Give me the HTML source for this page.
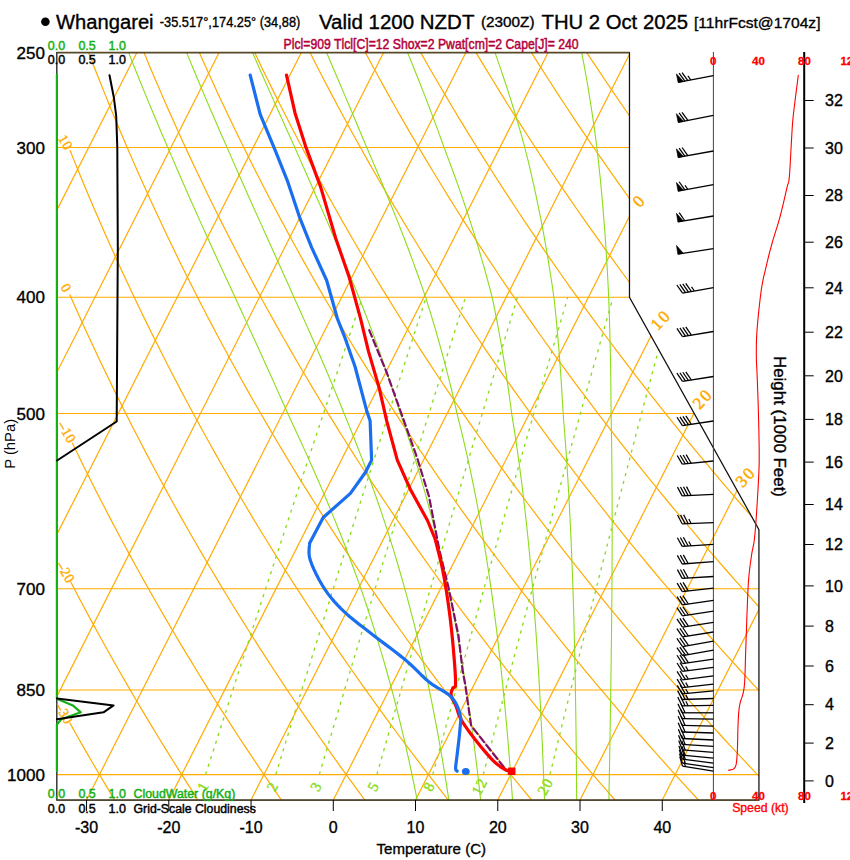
<!DOCTYPE html><html><head><meta charset="utf-8"><style>html,body{margin:0;padding:0;background:#fff;}svg{display:block;font-family:"Liberation Sans",sans-serif;}</style></head><body>
<svg width="850" height="860" viewBox="0 0 850 860">
<rect width="850" height="860" fill="#fff"/>
<defs><clipPath id="cp"><path d="M56.83,800.00 L758.93,800.00 L758.93,529.58 L629.48,297.39 L629.48,52.51 L56.83,52.51 Z"/></clipPath></defs>
<g clip-path="url(#cp)" fill="none">
<line x1="56.8" y1="774.59" x2="758.9" y2="774.59" stroke="#ffab00" stroke-width="1.1"/>
<line x1="56.8" y1="689.94" x2="758.9" y2="689.94" stroke="#ffab00" stroke-width="1.1"/>
<line x1="56.8" y1="588.81" x2="758.9" y2="588.81" stroke="#ffab00" stroke-width="1.1"/>
<line x1="56.8" y1="413.55" x2="758.9" y2="413.55" stroke="#ffab00" stroke-width="1.1"/>
<line x1="56.8" y1="297.32" x2="758.9" y2="297.32" stroke="#ffab00" stroke-width="1.1"/>
<line x1="56.8" y1="147.48" x2="758.9" y2="147.48" stroke="#ffab00" stroke-width="1.1"/>
<line x1="-571.37" y1="800.00" x2="-192.07" y2="52.51" stroke="#ffab00" stroke-width="1.2"/>
<line x1="-489.13" y1="800.00" x2="-109.83" y2="52.51" stroke="#ffab00" stroke-width="1.2"/>
<line x1="-406.89" y1="800.00" x2="-27.59" y2="52.51" stroke="#ffab00" stroke-width="1.2"/>
<line x1="-324.65" y1="800.00" x2="54.66" y2="52.51" stroke="#ffab00" stroke-width="1.2"/>
<line x1="-242.40" y1="800.00" x2="136.90" y2="52.51" stroke="#ffab00" stroke-width="1.2"/>
<line x1="-160.16" y1="800.00" x2="219.14" y2="52.51" stroke="#ffab00" stroke-width="1.2"/>
<line x1="-77.92" y1="800.00" x2="301.38" y2="52.51" stroke="#ffab00" stroke-width="1.2"/>
<line x1="4.32" y1="800.00" x2="383.62" y2="52.51" stroke="#ffab00" stroke-width="1.2"/>
<line x1="86.56" y1="800.00" x2="465.87" y2="52.51" stroke="#ffab00" stroke-width="1.2"/>
<line x1="168.81" y1="800.00" x2="548.11" y2="52.51" stroke="#ffab00" stroke-width="1.2"/>
<line x1="251.05" y1="800.00" x2="630.35" y2="52.51" stroke="#ffab00" stroke-width="1.2"/>
<line x1="333.29" y1="800.00" x2="712.59" y2="52.51" stroke="#ffab00" stroke-width="1.2"/>
<line x1="415.53" y1="800.00" x2="794.83" y2="52.51" stroke="#ffab00" stroke-width="1.2"/>
<line x1="497.77" y1="800.00" x2="877.08" y2="52.51" stroke="#ffab00" stroke-width="1.2"/>
<line x1="580.02" y1="800.00" x2="959.32" y2="52.51" stroke="#ffab00" stroke-width="1.2"/>
<line x1="662.26" y1="800.00" x2="1041.56" y2="52.51" stroke="#ffab00" stroke-width="1.2"/>
<path d="M114.63,800.00 L106.91,787.15 L99.29,774.31 L91.77,761.46 L84.35,748.61 L77.03,735.76 L69.80,722.91 L69.74,722.80" stroke="#ffab00" stroke-width="1.2"/>
<path d="M198.03,800.00 L189.73,787.15 L181.52,774.31 L173.42,761.46 L165.43,748.61 L157.54,735.76 L149.74,722.91 L142.05,710.07 L134.46,697.22 L126.96,684.37 L119.57,671.52 L112.27,658.68 L105.07,645.83 L97.97,632.98 L90.96,620.13 L84.05,607.29 L77.23,594.44 L70.50,581.59 L70.41,581.40" stroke="#ffab00" stroke-width="1.2"/>
<path d="M281.43,800.00 L272.54,787.15 L263.75,774.31 L255.08,761.46 L246.51,748.61 L238.04,735.76 L229.69,722.91 L221.43,710.07 L213.28,697.22 L205.24,684.37 L197.29,671.52 L189.45,658.68 L181.71,645.83 L174.06,632.98 L166.52,620.13 L159.08,607.29 L151.73,594.44 L144.48,581.59 L137.33,568.74 L130.28,555.90 L123.32,543.05 L116.45,530.20 L109.68,517.35 L103.00,504.50 L96.42,491.66 L89.92,478.81 L83.52,465.96 L77.21,453.11 L72.21,442.80" stroke="#ffab00" stroke-width="1.2"/>
<path d="M364.82,800.00 L355.35,787.15 L345.98,774.31 L336.73,761.46 L327.59,748.61 L318.55,735.76 L309.63,722.91 L300.81,710.07 L292.11,697.22 L283.51,684.37 L275.01,671.52 L266.62,658.68 L258.34,645.83 L250.16,632.98 L242.08,620.13 L234.11,607.29 L226.24,594.44 L218.47,581.59 L210.79,568.74 L203.22,555.90 L195.75,543.05 L188.38,530.20 L181.10,517.35 L173.92,504.50 L166.84,491.66 L159.85,478.81 L152.95,465.96 L146.15,453.11 L139.45,440.27 L132.84,427.42 L126.32,414.57 L119.89,401.72 L113.55,388.88 L107.30,376.03 L101.14,363.18 L95.07,350.33 L89.09,337.49 L83.20,324.64 L77.40,311.79 L71.68,298.94 L69.73,294.50" stroke="#ffab00" stroke-width="1.2"/>
<path d="M448.22,800.00 L438.16,787.15 L428.21,774.31 L418.38,761.46 L408.66,748.61 L399.06,735.76 L389.57,722.91 L380.20,710.07 L370.93,697.22 L361.78,684.37 L352.74,671.52 L343.80,658.68 L334.97,645.83 L326.26,632.98 L317.65,620.13 L309.14,607.29 L300.74,594.44 L292.45,581.59 L284.26,568.74 L276.17,555.90 L268.18,543.05 L260.30,530.20 L252.52,517.35 L244.84,504.50 L237.26,491.66 L229.77,478.81 L222.39,465.96 L215.10,453.11 L207.91,440.27 L200.82,427.42 L193.82,414.57 L186.92,401.72 L180.11,388.88 L173.39,376.03 L166.77,363.18 L160.24,350.33 L153.80,337.49 L147.46,324.64 L141.20,311.79 L135.03,298.94 L128.95,286.09 L122.96,273.25 L117.06,260.40 L111.25,247.55 L105.52,234.70 L99.88,221.86 L94.32,209.01 L88.85,196.16 L83.46,183.31 L78.16,170.47 L72.94,157.62 L70.01,150.30" stroke="#ffab00" stroke-width="1.2"/>
<path d="M531.62,800.00 L520.97,787.15 L510.44,774.31 L500.03,761.46 L489.74,748.61 L479.57,735.76 L469.52,722.91 L459.58,710.07 L449.76,697.22 L440.05,684.37 L430.46,671.52 L420.98,658.68 L411.61,645.83 L402.35,632.98 L393.21,620.13 L384.17,607.29 L375.24,594.44 L366.43,581.59 L357.72,568.74 L349.11,555.90 L340.62,543.05 L332.22,530.20 L323.94,517.35 L315.75,504.50 L307.68,491.66 L299.70,478.81 L291.82,465.96 L284.05,453.11 L276.37,440.27 L268.80,427.42 L261.33,414.57 L253.95,401.72 L246.67,388.88 L239.49,376.03 L232.40,363.18 L225.41,350.33 L218.51,337.49 L211.71,324.64 L205.00,311.79 L198.39,298.94 L191.87,286.09 L185.43,273.25 L179.09,260.40 L172.84,247.55 L166.68,234.70 L160.61,221.86 L154.63,209.01 L148.73,196.16 L142.93,183.31 L137.20,170.47 L131.57,157.62 L126.02,144.77 L120.55,131.92 L115.17,119.08 L109.87,106.23 L104.66,93.38 L99.53,80.53 L94.48,67.68 L89.51,54.84 L84.62,41.99" stroke="#ffab00" stroke-width="1.2"/>
<path d="M615.01,800.00 L603.78,787.15 L592.67,774.31 L581.68,761.46 L570.82,748.61 L560.08,735.76 L549.46,722.91 L538.96,710.07 L528.58,697.22 L518.32,684.37 L508.18,671.52 L498.15,658.68 L488.24,645.83 L478.45,632.98 L468.77,620.13 L459.20,607.29 L449.75,594.44 L440.41,581.59 L431.18,568.74 L422.06,555.90 L413.05,543.05 L404.15,530.20 L395.36,517.35 L386.67,504.50 L378.10,491.66 L369.62,478.81 L361.26,465.96 L353.00,453.11 L344.84,440.27 L336.78,427.42 L328.83,414.57 L320.98,401.72 L313.23,388.88 L305.58,376.03 L298.03,363.18 L290.58,350.33 L283.22,337.49 L275.97,324.64 L268.81,311.79 L261.74,298.94 L254.78,286.09 L247.90,273.25 L241.12,260.40 L234.44,247.55 L227.85,234.70 L221.34,221.86 L214.93,209.01 L208.62,196.16 L202.39,183.31 L196.25,170.47 L190.20,157.62 L184.24,144.77 L178.36,131.92 L172.58,119.08 L166.87,106.23 L161.26,93.38 L155.73,80.53 L150.28,67.68 L144.92,54.84 L139.65,41.99" stroke="#ffab00" stroke-width="1.2"/>
<path d="M698.41,800.00 L686.59,787.15 L674.90,774.31 L663.34,761.46 L651.90,748.61 L640.59,735.76 L629.40,722.91 L618.34,710.07 L607.41,697.22 L596.59,684.37 L585.90,671.52 L575.33,658.68 L564.88,645.83 L554.54,632.98 L544.33,620.13 L534.23,607.29 L524.25,594.44 L514.39,581.59 L504.64,568.74 L495.00,555.90 L485.48,543.05 L476.07,530.20 L466.78,517.35 L457.59,504.50 L448.52,491.66 L439.55,478.81 L430.69,465.96 L421.94,453.11 L413.30,440.27 L404.76,427.42 L396.33,414.57 L388.01,401.72 L379.79,388.88 L371.67,376.03 L363.66,363.18 L355.74,350.33 L347.93,337.49 L340.22,324.64 L332.61,311.79 L325.10,298.94 L317.69,286.09 L310.37,273.25 L303.15,260.40 L296.03,247.55 L289.01,234.70 L282.08,221.86 L275.24,209.01 L268.50,196.16 L261.85,183.31 L255.29,170.47 L248.83,157.62 L242.46,144.77 L236.17,131.92 L229.98,119.08 L223.88,106.23 L217.86,93.38 L211.93,80.53 L206.09,67.68 L200.34,54.84 L194.67,41.99" stroke="#ffab00" stroke-width="1.2"/>
<path d="M781.81,800.00 L769.40,787.15 L757.13,774.31 L744.99,761.46 L732.98,748.61 L721.10,735.76 L709.35,722.91 L697.73,710.07 L686.23,697.22 L674.86,684.37 L663.62,671.52 L652.50,658.68 L641.51,645.83 L630.64,632.98 L619.89,620.13 L609.26,607.29 L598.76,594.44 L588.37,581.59 L578.10,568.74 L567.95,555.90 L557.92,543.05 L548.00,530.20 L538.20,517.35 L528.51,504.50 L518.94,491.66 L509.47,478.81 L500.13,465.96 L490.89,453.11 L481.76,440.27 L472.75,427.42 L463.84,414.57 L455.04,401.72 L446.35,388.88 L437.76,376.03 L429.28,363.18 L420.91,350.33 L412.64,337.49 L404.48,324.64 L396.42,311.79 L388.46,298.94 L380.60,286.09 L372.84,273.25 L365.19,260.40 L357.63,247.55 L350.17,234.70 L342.81,221.86 L335.55,209.01 L328.38,196.16 L321.31,183.31 L314.34,170.47 L307.46,157.62 L300.67,144.77 L293.98,131.92 L287.38,119.08 L280.88,106.23 L274.46,93.38 L268.14,80.53 L261.90,67.68 L255.76,54.84 L249.70,41.99" stroke="#ffab00" stroke-width="1.2"/>
<path d="M865.20,800.00 L852.21,787.15 L839.36,774.31 L826.64,761.46 L814.06,748.61 L801.61,735.76 L789.29,722.91 L777.11,710.07 L765.06,697.22 L753.14,684.37 L741.34,671.52 L729.68,658.68 L718.14,645.83 L706.74,632.98 L695.45,620.13 L684.29,607.29 L673.26,594.44 L662.35,581.59 L651.56,568.74 L640.90,555.90 L630.35,543.05 L619.92,530.20 L609.62,517.35 L599.43,504.50 L589.36,491.66 L579.40,478.81 L569.56,465.96 L559.84,453.11 L550.23,440.27 L540.73,427.42 L531.34,414.57 L522.07,401.72 L512.91,388.88 L503.86,376.03 L494.91,363.18 L486.08,350.33 L477.35,337.49 L468.73,324.64 L460.22,311.79 L451.81,298.94 L443.51,286.09 L435.31,273.25 L427.22,260.40 L419.22,247.55 L411.33,234.70 L403.54,221.86 L395.85,209.01 L388.27,196.16 L380.78,183.31 L373.38,170.47 L366.09,157.62 L358.89,144.77 L351.79,131.92 L344.79,119.08 L337.88,106.23 L331.06,93.38 L324.34,80.53 L317.71,67.68 L311.17,54.84 L304.73,41.99" stroke="#ffab00" stroke-width="1.2"/>
<path d="M948.60,800.00 L935.02,787.15 L921.59,774.31 L908.29,761.46 L895.14,748.61 L882.12,735.76 L869.24,722.91 L856.49,710.07 L843.88,697.22 L831.41,684.37 L819.07,671.52 L806.86,658.68 L794.78,645.83 L782.83,632.98 L771.01,620.13 L759.33,607.29 L747.76,594.44 L736.33,581.59 L725.02,568.74 L713.84,555.90 L702.78,543.05 L691.85,530.20 L681.04,517.35 L670.34,504.50 L659.77,491.66 L649.33,478.81 L638.99,465.96 L628.78,453.11 L618.69,440.27 L608.71,427.42 L598.85,414.57 L589.10,401.72 L579.47,388.88 L569.95,376.03 L560.54,363.18 L551.25,350.33 L542.06,337.49 L532.99,324.64 L524.02,311.79 L515.17,298.94 L506.42,286.09 L497.78,273.25 L489.25,260.40 L480.82,247.55 L472.50,234.70 L464.28,221.86 L456.16,209.01 L448.15,196.16 L440.24,183.31 L432.43,170.47 L424.72,157.62 L417.11,144.77 L409.60,131.92 L402.19,119.08 L394.88,106.23 L387.66,93.38 L380.54,80.53 L373.52,67.68 L366.59,54.84 L359.75,41.99" stroke="#ffab00" stroke-width="1.2"/>
<path d="M1032.00,800.00 L1017.83,787.15 L1003.82,774.31 L989.94,761.46 L976.21,748.61 L962.63,735.76 L949.18,722.91 L935.87,710.07 L922.71,697.22 L909.68,684.37 L896.79,671.52 L884.03,658.68 L871.41,645.83 L858.93,632.98 L846.58,620.13 L834.36,607.29 L822.27,594.44 L810.31,581.59 L798.48,568.74 L786.79,555.90 L775.22,543.05 L763.77,530.20 L752.45,517.35 L741.26,504.50 L730.19,491.66 L719.25,478.81 L708.43,465.96 L697.73,453.11 L687.15,440.27 L676.69,427.42 L666.35,414.57 L656.13,401.72 L646.03,388.88 L636.04,376.03 L626.17,363.18 L616.41,350.33 L606.77,337.49 L597.24,324.64 L587.83,311.79 L578.52,298.94 L569.33,286.09 L560.25,273.25 L551.28,260.40 L542.41,247.55 L533.66,234.70 L525.01,221.86 L516.47,209.01 L508.03,196.16 L499.70,183.31 L491.47,170.47 L483.35,157.62 L475.33,144.77 L467.41,131.92 L459.59,119.08 L451.88,106.23 L444.26,93.38 L436.74,80.53 L429.33,67.68 L422.01,54.84 L414.78,41.99" stroke="#ffab00" stroke-width="1.2"/>
<path d="M1115.39,800.00 L1100.64,787.15 L1086.05,774.31 L1071.59,761.46 L1057.29,748.61 L1043.14,735.76 L1029.12,722.91 L1015.26,710.07 L1001.53,697.22 L987.95,684.37 L974.51,671.52 L961.21,658.68 L948.05,645.83 L935.02,632.98 L922.14,620.13 L909.39,607.29 L896.77,594.44 L884.29,581.59 L871.95,568.74 L859.73,555.90 L847.65,543.05 L835.70,530.20 L823.87,517.35 L812.18,504.50 L800.61,491.66 L789.18,478.81 L777.86,465.96 L766.68,453.11 L755.61,440.27 L744.67,427.42 L733.86,414.57 L723.16,401.72 L712.59,388.88 L702.13,376.03 L691.80,363.18 L681.58,350.33 L671.48,337.49 L661.50,324.64 L651.63,311.79 L641.88,298.94 L632.24,286.09 L622.72,273.25 L613.31,260.40 L604.01,247.55 L594.82,234.70 L585.74,221.86 L576.77,209.01 L567.91,196.16 L559.16,183.31 L550.52,170.47 L541.98,157.62 L533.55,144.77 L525.22,131.92 L517.00,119.08 L508.88,106.23 L500.86,93.38 L492.95,80.53 L485.13,67.68 L477.42,54.84 L469.81,41.99" stroke="#ffab00" stroke-width="1.2"/>
<path d="M1198.79,800.00 L1183.45,787.15 L1168.27,774.31 L1153.25,761.46 L1138.37,748.61 L1123.64,735.76 L1109.07,722.91 L1094.64,710.07 L1080.36,697.22 L1066.22,684.37 L1052.23,671.52 L1038.38,658.68 L1024.68,645.83 L1011.12,632.98 L997.70,620.13 L984.42,607.29 L971.28,594.44 L958.27,581.59 L945.41,568.74 L932.68,555.90 L920.08,543.05 L907.62,530.20 L895.29,517.35 L883.10,504.50 L871.03,491.66 L859.10,478.81 L847.30,465.96 L835.62,453.11 L824.08,440.27 L812.66,427.42 L801.36,414.57 L790.19,401.72 L779.15,388.88 L768.23,376.03 L757.43,363.18 L746.75,350.33 L736.19,337.49 L725.75,324.64 L715.44,311.79 L705.24,298.94 L695.15,286.09 L685.19,273.25 L675.34,260.40 L665.60,247.55 L655.98,234.70 L646.48,221.86 L637.08,209.01 L627.80,196.16 L618.63,183.31 L609.56,170.47 L600.61,157.62 L591.77,144.77 L583.03,131.92 L574.40,119.08 L565.88,106.23 L557.46,93.38 L549.15,80.53 L540.94,67.68 L532.84,54.84 L524.84,41.99" stroke="#ffab00" stroke-width="1.2"/>
<path d="M1282.18,800.00 L1266.27,787.15 L1250.50,774.31 L1234.90,761.46 L1219.45,748.61 L1204.15,735.76 L1189.01,722.91 L1174.02,710.07 L1159.18,697.22 L1144.49,684.37 L1129.95,671.52 L1115.56,658.68 L1101.31,645.83 L1087.21,632.98 L1073.26,620.13 L1059.45,607.29 L1045.78,594.44 L1032.25,581.59 L1018.87,568.74 L1005.62,555.90 L992.52,543.05 L979.55,530.20 L966.71,517.35 L954.02,504.50 L941.45,491.66 L929.03,478.81 L916.73,465.96 L904.57,453.11 L892.54,440.27 L880.64,427.42 L868.87,414.57 L857.22,401.72 L845.71,388.88 L834.32,376.03 L823.05,363.18 L811.92,350.33 L800.90,337.49 L790.01,324.64 L779.24,311.79 L768.59,298.94 L758.07,286.09 L747.66,273.25 L737.37,260.40 L727.20,247.55 L717.15,234.70 L707.21,221.86 L697.39,209.01 L687.68,196.16 L678.09,183.31 L668.61,170.47 L659.24,157.62 L649.99,144.77 L640.84,131.92 L631.81,119.08 L622.88,106.23 L614.06,93.38 L605.35,80.53 L596.75,67.68 L588.25,54.84 L579.86,41.99" stroke="#ffab00" stroke-width="1.2"/>
<path d="M1365.58,800.00 L1349.08,787.15 L1332.73,774.31 L1316.55,761.46 L1300.53,748.61 L1284.66,735.76 L1268.95,722.91 L1253.40,710.07 L1238.01,697.22 L1222.76,684.37 L1207.67,671.52 L1192.74,658.68 L1177.95,645.83 L1163.31,632.98 L1148.82,620.13 L1134.48,607.29 L1120.28,594.44 L1106.23,581.59 L1092.33,568.74 L1078.57,555.90 L1064.95,543.05 L1051.47,530.20 L1038.13,517.35 L1024.93,504.50 L1011.87,491.66 L998.95,478.81 L986.17,465.96 L973.52,453.11 L961.00,440.27 L948.62,427.42 L936.37,414.57 L924.25,401.72 L912.27,388.88 L900.41,376.03 L888.68,363.18 L877.08,350.33 L865.61,337.49 L854.27,324.64 L843.04,311.79 L831.95,298.94 L820.98,286.09 L810.13,273.25 L799.40,260.40 L788.79,247.55 L778.31,234.70 L767.94,221.86 L757.69,209.01 L747.56,196.16 L737.55,183.31 L727.65,170.47 L717.87,157.62 L708.20,144.77 L698.65,131.92 L689.21,119.08 L679.88,106.23 L670.66,93.38 L661.56,80.53 L652.56,67.68 L643.67,54.84 L634.89,41.99" stroke="#ffab00" stroke-width="1.2"/>
<path d="M1448.98,800.00 L1431.89,787.15 L1414.96,774.31 L1398.20,761.46 L1381.61,748.61 L1365.17,735.76 L1348.90,722.91 L1332.79,710.07 L1316.83,697.22 L1301.04,684.37 L1285.40,671.52 L1269.91,658.68 L1254.58,645.83 L1239.41,632.98 L1224.38,620.13 L1209.51,607.29 L1194.79,594.44 L1180.22,581.59 L1165.79,568.74 L1151.51,555.90 L1137.38,543.05 L1123.39,530.20 L1109.55,517.35 L1095.85,504.50 L1082.29,491.66 L1068.88,478.81 L1055.60,465.96 L1042.46,453.11 L1029.46,440.27 L1016.60,427.42 L1003.87,414.57 L991.28,401.72 L978.83,388.88 L966.50,376.03 L954.31,363.18 L942.25,350.33 L930.32,337.49 L918.52,324.64 L906.85,311.79 L895.31,298.94 L883.89,286.09 L872.60,273.25 L861.43,260.40 L850.39,247.55 L839.47,234.70 L828.68,221.86 L818.00,209.01 L807.45,196.16 L797.01,183.31 L786.70,170.47 L776.50,157.62 L766.42,144.77 L756.46,131.92 L746.61,119.08 L736.88,106.23 L727.26,93.38 L717.76,80.53 L708.37,67.68 L699.09,54.84 L689.92,41.99" stroke="#ffab00" stroke-width="1.2"/>
<path d="M1532.37,800.00 L1514.70,787.15 L1497.19,774.31 L1479.85,761.46 L1462.68,748.61 L1445.68,735.76 L1428.84,722.91 L1412.17,710.07 L1395.66,697.22 L1379.31,684.37 L1363.12,671.52 L1347.09,658.68 L1331.22,645.83 L1315.50,632.98 L1299.94,620.13 L1284.54,607.29 L1269.29,594.44 L1254.20,581.59 L1239.25,568.74 L1224.46,555.90 L1209.81,543.05 L1195.32,530.20 L1180.97,517.35 L1166.77,504.50 L1152.71,491.66 L1138.80,478.81 L1125.04,465.96 L1111.41,453.11 L1097.93,440.27 L1084.58,427.42 L1071.38,414.57 L1058.31,401.72 L1045.39,388.88 L1032.59,376.03 L1019.94,363.18 L1007.42,350.33 L995.03,337.49 L982.78,324.64 L970.65,311.79 L958.66,298.94 L946.80,286.09 L935.07,273.25 L923.46,260.40 L911.98,247.55 L900.63,234.70 L889.41,221.86 L878.31,209.01 L867.33,196.16 L856.48,183.31 L845.74,170.47 L835.13,157.62 L824.64,144.77 L814.27,131.92 L804.02,119.08 L793.88,106.23 L783.86,93.38 L773.96,80.53 L764.18,67.68 L754.50,54.84 L744.95,41.99" stroke="#ffab00" stroke-width="1.2"/>
<path d="M1615.77,800.00 L1597.51,787.15 L1579.42,774.31 L1561.51,761.46 L1543.76,748.61 L1526.19,735.76 L1508.79,722.91 L1491.55,710.07 L1474.48,697.22 L1457.58,684.37 L1440.84,671.52 L1424.26,658.68 L1407.85,645.83 L1391.60,632.98 L1375.51,620.13 L1359.57,607.29 L1343.80,594.44 L1328.18,581.59 L1312.71,568.74 L1297.40,555.90 L1282.25,543.05 L1267.24,530.20 L1252.39,517.35 L1237.69,504.50 L1223.13,491.66 L1208.73,478.81 L1194.47,465.96 L1180.36,453.11 L1166.39,440.27 L1152.56,427.42 L1138.88,414.57 L1125.34,401.72 L1111.95,388.88 L1098.69,376.03 L1085.57,363.18 L1072.59,350.33 L1059.74,337.49 L1047.03,324.64 L1034.46,311.79 L1022.02,298.94 L1009.71,286.09 L997.54,273.25 L985.49,260.40 L973.58,247.55 L961.80,234.70 L950.14,221.86 L938.61,209.01 L927.21,196.16 L915.94,183.31 L904.79,170.47 L893.76,157.62 L882.86,144.77 L872.08,131.92 L861.42,119.08 L850.88,106.23 L840.47,93.38 L830.17,80.53 L819.98,67.68 L809.92,54.84 L799.97,41.99" stroke="#ffab00" stroke-width="1.2"/>
<path d="M608.90,800.00 L609.13,787.15 L609.37,774.31 L609.59,761.46 L609.82,748.61 L610.04,735.76 L610.25,722.91 L610.46,710.07 L610.66,697.22 L610.85,684.37 L611.03,671.52 L611.20,658.68 L611.37,645.83 L611.52,632.98 L611.65,620.13 L611.78,607.29 L611.89,594.44 L611.98,581.59 L612.05,568.74 L612.11,555.90 L612.15,543.05 L612.16,530.20 L612.16,517.35 L612.12,504.50 L612.07,491.66 L611.99,478.81 L611.87,465.96 L611.73,453.11 L611.56,440.27 L611.35,427.42 L611.11,414.57 L611.01,401.72 L610.89,388.88 L610.73,376.03 L610.52,363.18 L610.27,350.33 L609.97,337.49 L609.62,324.64 L609.22,311.79 L608.76,298.94 L608.15,286.09 L607.47,273.25 L606.73,260.40 L605.92,247.55 L605.04,234.70 L604.08,221.86 L603.04,209.01 L601.93,196.16 L600.72,183.31 L599.43,170.47 L598.04,157.62 L596.53,144.77 L594.81,131.92 L592.99,119.08 L591.06,106.23 L589.01,93.38 L586.84,80.53 L584.55,67.68 L582.13,54.84 L579.60,41.99" stroke="#8cdc1a" stroke-width="1.1"/>
<path d="M576.66,800.00 L576.56,787.15 L576.46,774.31 L576.35,761.46 L576.22,748.61 L576.07,735.76 L575.91,722.91 L575.73,710.07 L575.53,697.22 L575.32,684.37 L575.08,671.52 L574.82,658.68 L574.53,645.83 L574.22,632.98 L573.88,620.13 L573.52,607.29 L573.12,594.44 L572.69,581.59 L572.22,568.74 L571.72,555.90 L571.18,543.05 L570.60,530.20 L569.98,517.35 L569.32,504.50 L568.60,491.66 L567.84,478.81 L567.03,465.96 L566.16,453.11 L565.23,440.27 L564.24,427.42 L563.19,414.57 L562.47,401.72 L561.70,388.88 L560.86,376.03 L559.95,363.18 L558.95,350.33 L557.88,337.49 L556.71,324.64 L555.46,311.79 L554.11,298.94 L552.30,286.09 L550.33,273.25 L548.26,260.40 L546.08,247.55 L543.78,234.70 L541.37,221.86 L538.82,209.01 L536.15,196.16 L533.35,183.31 L530.42,170.47 L527.34,157.62 L524.07,144.77 L520.47,131.92 L516.73,119.08 L512.83,106.23 L508.79,93.38 L504.60,80.53 L500.26,67.68 L495.77,54.84 L491.33,41.99" stroke="#8cdc1a" stroke-width="1.1"/>
<path d="M544.53,800.00 L544.06,787.15 L543.56,774.31 L543.03,761.46 L542.48,748.61 L541.90,735.76 L541.29,722.91 L540.65,710.07 L539.98,697.22 L539.27,684.37 L538.52,671.52 L537.73,658.68 L536.90,645.83 L536.03,632.98 L535.11,620.13 L534.14,607.29 L533.13,594.44 L532.05,581.59 L530.92,568.74 L529.73,555.90 L528.48,543.05 L527.17,530.20 L525.78,517.35 L524.33,504.50 L522.80,491.66 L521.19,478.81 L519.49,465.96 L517.72,453.11 L515.85,440.27 L513.89,427.42 L511.83,414.57 L510.11,401.72 L508.32,388.88 L506.42,376.03 L504.41,363.18 L502.28,350.33 L500.03,337.49 L497.65,324.64 L495.15,311.79 L492.51,298.94 L489.23,286.09 L485.74,273.25 L482.11,260.40 L478.34,247.55 L474.42,234.70 L470.36,221.86 L466.15,209.01 L461.79,196.16 L457.30,183.31 L452.66,170.47 L447.88,157.62 L443.06,144.77 L438.45,131.92 L433.72,119.08 L428.87,106.23 L423.91,93.38 L418.86,80.53 L413.71,67.68 L408.48,54.84 L402.92,41.99" stroke="#8cdc1a" stroke-width="1.1"/>
<path d="M512.53,800.00 L511.61,787.15 L510.65,774.31 L509.65,761.46 L508.61,748.61 L507.52,735.76 L506.39,722.91 L505.21,710.07 L503.97,697.22 L502.69,684.37 L501.34,671.52 L499.93,658.68 L498.46,645.83 L496.93,632.98 L495.32,620.13 L493.64,607.29 L491.89,594.44 L490.06,581.59 L488.14,568.74 L486.14,555.90 L484.04,543.05 L481.86,530.20 L479.57,517.35 L477.18,504.50 L474.69,491.66 L472.08,478.81 L469.36,465.96 L466.53,453.11 L463.57,440.27 L460.49,427.42 L457.28,414.57 L454.34,401.72 L451.31,388.88 L448.14,376.03 L444.82,363.18 L441.37,350.33 L437.78,337.49 L434.04,324.64 L430.16,311.79 L426.14,298.94 L421.77,286.09 L417.23,273.25 L412.56,260.40 L407.76,247.55 L402.83,234.70 L397.79,221.86 L392.64,209.01 L387.38,196.16 L382.04,183.31 L376.61,170.47 L371.10,157.62 L365.59,144.77 L360.24,131.92 L354.84,119.08 L349.41,106.23 L343.96,93.38 L338.49,80.53 L333.01,67.68 L327.53,54.84 L321.68,41.99" stroke="#8cdc1a" stroke-width="1.1"/>
<path d="M480.64,800.00 L479.22,787.15 L477.74,774.31 L476.20,761.46 L474.61,748.61 L472.95,735.76 L471.22,722.91 L469.42,710.07 L467.55,697.22 L465.61,684.37 L463.58,671.52 L461.47,658.68 L459.27,645.83 L456.98,632.98 L454.60,620.13 L452.12,607.29 L449.53,594.44 L446.84,581.59 L444.04,568.74 L441.13,555.90 L438.10,543.05 L434.95,530.20 L431.67,517.35 L428.26,504.50 L424.73,491.66 L421.06,478.81 L417.26,465.96 L413.32,453.11 L409.24,440.27 L405.02,427.42 L400.66,414.57 L396.58,401.72 L392.40,388.88 L388.08,376.03 L383.63,363.18 L379.05,350.33 L374.35,337.49 L369.52,324.64 L364.59,311.79 L359.55,298.94 L354.38,286.09 L349.11,273.25 L343.76,260.40 L338.35,247.55 L332.87,234.70 L327.34,221.86 L321.77,209.01 L316.17,196.16 L310.55,183.31 L304.91,170.47 L299.27,157.62 L293.60,144.77 L287.78,131.92 L281.98,119.08 L276.21,106.23 L270.48,93.38 L264.78,80.53 L259.13,67.68 L253.52,54.84 L247.79,41.99" stroke="#8cdc1a" stroke-width="1.1"/>
<path d="M448.86,800.00 L446.88,787.15 L444.83,774.31 L442.70,761.46 L440.49,748.61 L438.20,735.76 L435.82,722.91 L433.34,710.07 L430.78,697.22 L428.11,684.37 L425.34,671.52 L422.46,658.68 L419.48,645.83 L416.38,632.98 L413.16,620.13 L409.82,607.29 L406.36,594.44 L402.79,581.59 L399.12,568.74 L395.31,555.90 L391.37,543.05 L387.29,530.20 L383.07,517.35 L378.72,504.50 L374.23,491.66 L369.61,478.81 L364.85,465.96 L359.96,453.11 L354.94,440.27 L349.80,427.42 L344.53,414.57 L339.34,401.72 L334.05,388.88 L328.66,376.03 L323.19,363.18 L317.62,350.33 L311.99,337.49 L306.29,324.64 L300.53,311.79 L294.72,298.94 L288.97,286.09 L283.20,273.25 L277.42,260.40 L271.62,247.55 L265.82,234.70 L260.04,221.86 L254.26,209.01 L248.51,196.16 L242.79,183.31 L237.11,170.47 L231.47,157.62 L225.85,144.77 L220.20,131.92 L214.61,119.08 L209.08,106.23 L203.60,93.38 L198.20,80.53 L192.85,67.68 L187.58,54.84 L182.18,41.99" stroke="#8cdc1a" stroke-width="1.1"/>
<path d="M417.16,800.00 L414.59,787.15 L411.92,774.31 L409.16,761.46 L406.29,748.61 L403.33,735.76 L400.25,722.91 L397.07,710.07 L393.77,697.22 L390.35,684.37 L386.81,671.52 L383.14,658.68 L379.35,645.83 L375.43,632.98 L371.38,620.13 L367.19,607.29 L362.87,594.44 L358.37,581.59 L353.71,568.74 L348.91,555.90 L343.98,543.05 L338.92,530.20 L333.73,517.35 L328.42,504.50 L322.98,491.66 L317.44,478.81 L311.78,465.96 L306.03,453.11 L300.18,440.27 L294.25,427.42 L288.24,414.57 L282.53,401.72 L276.80,388.88 L271.02,376.03 L265.20,363.18 L259.35,350.33 L253.47,337.49 L247.59,324.64 L241.70,311.79 L235.82,298.94 L229.85,286.09 L223.90,273.25 L217.96,260.40 L212.07,247.55 L206.21,234.70 L200.39,221.86 L194.62,209.01 L188.91,196.16 L183.25,183.31 L177.66,170.47 L172.12,157.62 L166.63,144.77 L161.12,131.92 L155.67,119.08 L150.30,106.23 L145.00,93.38 L139.77,80.53 L134.62,67.68 L129.54,54.84 L124.45,41.99" stroke="#8cdc1a" stroke-width="1.1"/>
<path d="M549.97,774.59 L554.03,757.87 L558.25,740.61 L562.63,722.75 L567.18,704.25 L571.93,685.08 L576.89,665.17 L582.06,644.47 L587.48,622.91 L593.16,600.43 L599.14,576.92 L605.43,552.31 L612.07,526.48 L619.10,499.30 L626.57,470.62 L634.52,440.27 L643.02,408.04 L652.15,373.68 L661.99,336.90 L672.67,297.32" stroke="#8cdc1a" stroke-width="1.35" stroke-dasharray="3.2,4.9"/>
<path d="M483.32,774.59 L487.65,757.87 L492.14,740.61 L496.80,722.75 L501.65,704.25 L506.70,685.08 L511.96,665.17 L517.45,644.47 L523.20,622.91 L529.22,600.43 L535.55,576.92 L542.20,552.31 L549.23,526.48 L556.65,499.30 L564.53,470.62 L572.92,440.27 L581.88,408.04 L591.49,373.68 L601.84,336.90 L613.06,297.32" stroke="#8cdc1a" stroke-width="1.35" stroke-dasharray="3.2,4.9"/>
<path d="M432.82,774.59 L437.34,757.87 L442.03,740.61 L446.90,722.75 L451.97,704.25 L457.23,685.08 L462.72,665.17 L468.45,644.47 L474.44,622.91 L480.72,600.43 L487.30,576.92 L494.23,552.31 L501.53,526.48 L509.25,499.30 L517.44,470.62 L526.15,440.27 L535.44,408.04 L545.41,373.68 L556.14,336.90 L567.76,297.32" stroke="#8cdc1a" stroke-width="1.35" stroke-dasharray="3.2,4.9"/>
<path d="M376.93,774.59 L381.67,757.87 L386.58,740.61 L391.67,722.75 L396.96,704.25 L402.47,685.08 L408.20,665.17 L414.18,644.47 L420.44,622.91 L426.98,600.43 L433.85,576.92 L441.07,552.31 L448.67,526.48 L456.71,499.30 L465.23,470.62 L474.28,440.27 L483.94,408.04 L494.29,373.68 L505.43,336.90 L517.48,297.32" stroke="#8cdc1a" stroke-width="1.35" stroke-dasharray="3.2,4.9"/>
<path d="M319.32,774.59 L324.27,757.87 L329.40,740.61 L334.72,722.75 L340.24,704.25 L345.98,685.08 L351.96,665.17 L358.20,644.47 L364.71,622.91 L371.53,600.43 L378.67,576.92 L386.19,552.31 L394.10,526.48 L402.45,499.30 L411.30,470.62 L420.70,440.27 L430.73,408.04 L441.46,373.68 L453.00,336.90 L465.48,297.32" stroke="#8cdc1a" stroke-width="1.35" stroke-dasharray="3.2,4.9"/>
<path d="M275.80,774.59 L280.91,757.87 L286.20,740.61 L291.68,722.75 L297.37,704.25 L303.29,685.08 L309.45,665.17 L315.87,644.47 L322.58,622.91 L329.59,600.43 L336.95,576.92 L344.67,552.31 L352.81,526.48 L361.39,499.30 L370.48,470.62 L380.14,440.27 L390.43,408.04 L401.45,373.68 L413.29,336.90 L426.09,297.32" stroke="#8cdc1a" stroke-width="1.35" stroke-dasharray="3.2,4.9"/>
<path d="M205.62,774.59 L210.97,757.87 L216.51,740.61 L222.25,722.75 L228.21,704.25 L234.39,685.08 L240.83,665.17 L247.54,644.47 L254.55,622.91 L261.88,600.43 L269.55,576.92 L277.61,552.31 L286.09,526.48 L295.04,499.30 L304.51,470.62 L314.57,440.27 L325.28,408.04 L336.73,373.68 L349.04,336.90 L362.33,297.32" stroke="#8cdc1a" stroke-width="1.35" stroke-dasharray="3.2,4.9"/>
</g>
<path d="M56.83,800.00 L758.93,800.00 L758.93,529.58 L629.48,297.39 L629.48,52.51 L56.83,52.51 Z" fill="none" stroke="#111" stroke-width="1.25"/>
<line x1="56.8" y1="52.51" x2="629.5" y2="52.51" stroke="#5a4820" stroke-width="1.3"/>
<line x1="56.8" y1="800.00" x2="758.9" y2="800.00" stroke="#5a4820" stroke-width="1.2"/>
<text x="0" y="0" font-size="17" fill="#ffab00" stroke="#ffab00" stroke-width="0.5" text-anchor="middle" dominant-baseline="central" font-family="Liberation Serif" transform="translate(639.4,200.6) rotate(-47)" letter-spacing="2">0</text>
<text x="0" y="0" font-size="17" fill="#ffab00" stroke="#ffab00" stroke-width="0.5" text-anchor="middle" dominant-baseline="central" font-family="Liberation Serif" transform="translate(660.9,319.8) rotate(-47)" letter-spacing="2">10</text>
<text x="0" y="0" font-size="17" fill="#ffab00" stroke="#ffab00" stroke-width="0.5" text-anchor="middle" dominant-baseline="central" font-family="Liberation Serif" transform="translate(702.8,398.8) rotate(-47)" letter-spacing="2">20</text>
<text x="0" y="0" font-size="17" fill="#ffab00" stroke="#ffab00" stroke-width="0.5" text-anchor="middle" dominant-baseline="central" font-family="Liberation Serif" transform="translate(745.8,476.7) rotate(-47)" letter-spacing="2">30</text>
<text x="0" y="0" font-size="14" fill="#ffab00" stroke="#ffab00" stroke-width="0.4" text-anchor="middle" dominant-baseline="central" font-family="Liberation Serif" transform="translate(65.5,142.5) rotate(60)" letter-spacing="0.5">10</text>
<text x="0" y="0" font-size="14" fill="#ffab00" stroke="#ffab00" stroke-width="0.4" text-anchor="middle" dominant-baseline="central" font-family="Liberation Serif" transform="translate(66.0,287.9) rotate(60)" letter-spacing="0.5">0</text>
<text x="0" y="0" font-size="14" fill="#ffab00" stroke="#ffab00" stroke-width="0.4" text-anchor="middle" dominant-baseline="central" font-family="Liberation Serif" transform="translate(66.8,432.2) rotate(60)" letter-spacing="0.5">–10</text>
<text x="0" y="0" font-size="14" fill="#ffab00" stroke="#ffab00" stroke-width="0.4" text-anchor="middle" dominant-baseline="central" font-family="Liberation Serif" transform="translate(65.6,572.2) rotate(60)" letter-spacing="0.5">–20</text>
<text x="0" y="0" font-size="14" fill="#ffab00" stroke="#ffab00" stroke-width="0.4" text-anchor="middle" dominant-baseline="central" font-family="Liberation Serif" transform="translate(63.9,713.2) rotate(60)" letter-spacing="0.5">–30</text>
<text x="0" y="0" font-size="15" fill="#8cdc1a" stroke="#8cdc1a" stroke-width="0.4" text-anchor="middle" dominant-baseline="central" font-family="Liberation Serif" transform="translate(203.0,786.5) rotate(-62)" letter-spacing="1">1</text>
<text x="0" y="0" font-size="15" fill="#8cdc1a" stroke="#8cdc1a" stroke-width="0.4" text-anchor="middle" dominant-baseline="central" font-family="Liberation Serif" transform="translate(272.5,786.5) rotate(-62)" letter-spacing="1">2</text>
<text x="0" y="0" font-size="15" fill="#8cdc1a" stroke="#8cdc1a" stroke-width="0.4" text-anchor="middle" dominant-baseline="central" font-family="Liberation Serif" transform="translate(316.0,786.5) rotate(-62)" letter-spacing="1">3</text>
<text x="0" y="0" font-size="15" fill="#8cdc1a" stroke="#8cdc1a" stroke-width="0.4" text-anchor="middle" dominant-baseline="central" font-family="Liberation Serif" transform="translate(373.4,786.5) rotate(-62)" letter-spacing="1">5</text>
<text x="0" y="0" font-size="15" fill="#8cdc1a" stroke="#8cdc1a" stroke-width="0.4" text-anchor="middle" dominant-baseline="central" font-family="Liberation Serif" transform="translate(429.0,786.5) rotate(-62)" letter-spacing="1">8</text>
<text x="0" y="0" font-size="15" fill="#8cdc1a" stroke="#8cdc1a" stroke-width="0.4" text-anchor="middle" dominant-baseline="central" font-family="Liberation Serif" transform="translate(479.5,786.5) rotate(-62)" letter-spacing="1">12</text>
<text x="0" y="0" font-size="15" fill="#8cdc1a" stroke="#8cdc1a" stroke-width="0.4" text-anchor="middle" dominant-baseline="central" font-family="Liberation Serif" transform="translate(545.4,786.5) rotate(-62)" letter-spacing="1">20</text>
<text x="44.9" y="58.5" font-size="17.0" fill="#000" stroke="#000" stroke-width="0.35" text-anchor="end">250</text>
<text x="44.9" y="153.5" font-size="17.0" fill="#000" stroke="#000" stroke-width="0.35" text-anchor="end">300</text>
<text x="44.9" y="303.3" font-size="17.0" fill="#000" stroke="#000" stroke-width="0.35" text-anchor="end">400</text>
<text x="44.9" y="419.5" font-size="17.0" fill="#000" stroke="#000" stroke-width="0.35" text-anchor="end">500</text>
<text x="44.9" y="594.8" font-size="17.0" fill="#000" stroke="#000" stroke-width="0.35" text-anchor="end">700</text>
<text x="44.9" y="695.9" font-size="17.0" fill="#000" stroke="#000" stroke-width="0.35" text-anchor="end">850</text>
<text x="44.9" y="780.6" font-size="17.0" fill="#000" stroke="#000" stroke-width="0.35" text-anchor="end">1000</text>
<line x1="86.56" y1="800.0" x2="86.56" y2="811.0" stroke="#000" stroke-width="1"/>
<text x="86.6" y="833.4" font-size="16.0" fill="#000" stroke="#000" stroke-width="0.35" text-anchor="middle">-30</text>
<line x1="168.81" y1="800.0" x2="168.81" y2="811.0" stroke="#000" stroke-width="1"/>
<text x="168.8" y="833.4" font-size="16.0" fill="#000" stroke="#000" stroke-width="0.35" text-anchor="middle">-20</text>
<line x1="251.05" y1="800.0" x2="251.05" y2="811.0" stroke="#000" stroke-width="1"/>
<text x="251.0" y="833.4" font-size="16.0" fill="#000" stroke="#000" stroke-width="0.35" text-anchor="middle">-10</text>
<line x1="333.29" y1="800.0" x2="333.29" y2="811.0" stroke="#000" stroke-width="1"/>
<text x="333.3" y="833.4" font-size="16.0" fill="#000" stroke="#000" stroke-width="0.35" text-anchor="middle">0</text>
<line x1="415.53" y1="800.0" x2="415.53" y2="811.0" stroke="#000" stroke-width="1"/>
<text x="415.5" y="833.4" font-size="16.0" fill="#000" stroke="#000" stroke-width="0.35" text-anchor="middle">10</text>
<line x1="497.77" y1="800.0" x2="497.77" y2="811.0" stroke="#000" stroke-width="1"/>
<text x="497.8" y="833.4" font-size="16.0" fill="#000" stroke="#000" stroke-width="0.35" text-anchor="middle">20</text>
<line x1="580.02" y1="800.0" x2="580.02" y2="811.0" stroke="#000" stroke-width="1"/>
<text x="580.0" y="833.4" font-size="16.0" fill="#000" stroke="#000" stroke-width="0.35" text-anchor="middle">30</text>
<line x1="662.26" y1="800.0" x2="662.26" y2="811.0" stroke="#000" stroke-width="1"/>
<text x="662.3" y="833.4" font-size="16.0" fill="#000" stroke="#000" stroke-width="0.35" text-anchor="middle">40</text>
<text x="431.3" y="853.7" font-size="14.5" fill="#000" stroke="#000" stroke-width="0.35" text-anchor="middle" textLength="109.5" lengthAdjust="spacingAndGlyphs">Temperature (C)</text>
<text x="0" y="0" font-size="15" transform="translate(14.7,443.8) rotate(-90)" text-anchor="middle" textLength="50" lengthAdjust="spacingAndGlyphs">P (hPa)</text>
<circle cx="45.4" cy="21.8" r="4.3" fill="#000"/>
<text x="56.1" y="28.8" font-size="20.0" fill="#000" stroke="#000" stroke-width="0.35" textLength="97.5" lengthAdjust="spacingAndGlyphs">Whangarei</text>
<text x="159.8" y="27.0" font-size="14.0" fill="#000" stroke="#000" stroke-width="0.35" textLength="140.5" lengthAdjust="spacingAndGlyphs">-35.517°,174.25° (34,88)</text>
<text x="318.9" y="29.0" font-size="20.0" fill="#000" stroke="#000" stroke-width="0.35" textLength="155.5" lengthAdjust="spacingAndGlyphs">Valid 1200 NZDT</text>
<text x="481.0" y="27.0" font-size="14.0" fill="#000" stroke="#000" stroke-width="0.35" textLength="53.5" lengthAdjust="spacingAndGlyphs">(2300Z)</text>
<text x="541.5" y="29.0" font-size="20.0" fill="#000" stroke="#000" stroke-width="0.35" textLength="146.5" lengthAdjust="spacingAndGlyphs">THU 2 Oct 2025</text>
<text x="694.0" y="28.2" font-size="15.5" fill="#000" stroke="#000" stroke-width="0.35" textLength="126.5" lengthAdjust="spacingAndGlyphs">[11hrFcst@1704z]</text>
<text x="283.6" y="48.7" font-size="14.3" fill="#b4003c" stroke="#b4003c" stroke-width="0.50" textLength="295.0" lengthAdjust="spacingAndGlyphs">Plcl=909 Tlcl[C]=12 Shox=2 Pwat[cm]=2 Cape[J]= 240</text>
<text x="56.4" y="49.6" font-size="12.5" fill="#14b014" stroke="#14b014" stroke-width="0.45" text-anchor="middle">0.0</text>
<text x="56.4" y="64.3" font-size="12.5" fill="#000" stroke="#000" stroke-width="0.45" text-anchor="middle">0.0</text>
<text x="56.4" y="798.3" font-size="12.5" fill="#14b014" stroke="#14b014" stroke-width="0.45" text-anchor="middle">0.0</text>
<text x="56.4" y="813.0" font-size="12.5" fill="#000" stroke="#000" stroke-width="0.45" text-anchor="middle">0.0</text>
<text x="87.1" y="49.6" font-size="12.5" fill="#14b014" stroke="#14b014" stroke-width="0.45" text-anchor="middle">0.5</text>
<text x="87.1" y="64.3" font-size="12.5" fill="#000" stroke="#000" stroke-width="0.45" text-anchor="middle">0.5</text>
<text x="87.1" y="798.3" font-size="12.5" fill="#14b014" stroke="#14b014" stroke-width="0.45" text-anchor="middle">0.5</text>
<text x="87.1" y="813.0" font-size="12.5" fill="#000" stroke="#000" stroke-width="0.45" text-anchor="middle">0.5</text>
<text x="117.2" y="49.6" font-size="12.5" fill="#14b014" stroke="#14b014" stroke-width="0.45" text-anchor="middle">1.0</text>
<text x="117.2" y="64.3" font-size="12.5" fill="#000" stroke="#000" stroke-width="0.45" text-anchor="middle">1.0</text>
<text x="117.2" y="798.3" font-size="12.5" fill="#14b014" stroke="#14b014" stroke-width="0.45" text-anchor="middle">1.0</text>
<text x="117.2" y="813.0" font-size="12.5" fill="#000" stroke="#000" stroke-width="0.45" text-anchor="middle">1.0</text>
<text x="133.5" y="798.3" font-size="12.0" fill="#14b014" stroke="#14b014" stroke-width="0.45" textLength="101.8" lengthAdjust="spacingAndGlyphs">CloudWater (g/Kg)</text>
<text x="133.5" y="813.0" font-size="12.5" fill="#000" stroke="#000" stroke-width="0.45" textLength="122.3" lengthAdjust="spacingAndGlyphs">Grid-Scale Cloudiness</text>
<path d="M56.90,74.60 L56.90,698.80 L72.80,705.40 L80.80,712.30 L61.20,719.20 L56.90,724.50 L56.90,771.00" fill="none" stroke="#14b014" stroke-width="2.20" stroke-linejoin="round" stroke-linecap="round"/>
<path d="M109.50,75.20 L113.80,97.20 L116.20,115.80 L117.30,147.20 L117.80,250.00 L117.30,330.00 L116.70,421.50 L57.10,460.50" fill="none" stroke="#000" stroke-width="2.00" stroke-linejoin="round" stroke-linecap="round"/>
<path d="M56.90,698.50 L113.60,705.40 L103.50,712.30 L56.90,719.20" fill="none" stroke="#000" stroke-width="2.00" stroke-linejoin="round" stroke-linecap="round"/>
<path d="M369.20,330.20 L386.70,372.50 L401.80,414.80 L416.90,457.10 L429.00,496.40 L439.50,550.80 L448.30,586.50 L458.50,635.90 L462.70,671.30 L465.30,685.00 L471.10,725.60 L506.70,770.80" fill="none" stroke="#80106a" stroke-width="2.20" stroke-linejoin="round" stroke-linecap="round" stroke-dasharray="7,3.6" stroke-linecap="butt"/>
<path d="M286.50,75.10 L295.00,112.90 L305.50,146.10 L320.60,186.90 L335.70,238.20 L349.30,277.50 L360.50,318.30 L368.50,351.40 L379.10,387.60 L386.70,420.80 L397.30,460.10 L410.80,490.30 L427.50,520.50 L435.00,538.70 L435.84,541.96 L437.01,546.42 L438.39,551.73 L439.85,557.51 L441.26,563.43 L442.50,569.10 L443.58,574.61 L444.61,580.26 L445.59,586.04 L446.53,591.91 L447.43,597.88 L448.30,603.90 L449.13,609.99 L449.93,616.17 L450.68,622.43 L451.40,628.77 L452.07,635.20 L452.70,641.70 L453.34,648.72 L453.99,656.34 L454.61,664.05 L455.12,671.31 L455.47,677.60 L455.60,682.40 L455.44,685.37 L455.01,686.87 L454.43,687.39 L453.78,687.46 L453.17,687.56 L452.70,688.20 L452.30,689.28 L451.86,690.37 L451.47,691.50 L451.18,692.70 L451.07,693.99 L451.20,695.40 L451.63,696.93 L452.31,698.55 L453.17,700.27 L454.12,702.08 L455.09,703.99 L456.00,706.00 L456.76,708.07 L457.42,710.21 L458.09,712.44 L458.90,714.80 L459.97,717.34 L461.40,720.10 L463.26,723.14 L465.45,726.44 L467.89,729.91 L470.51,733.47 L473.20,737.03 L475.90,740.50 L478.71,744.02 L481.73,747.70 L484.83,751.38 L487.89,754.90 L490.79,758.09 L493.40,760.80 L495.73,763.00 L497.90,764.83 L499.89,766.32 L501.74,767.56 L503.44,768.60 L505.00,769.50 L506.44,770.18 L507.76,770.59 L508.93,770.79 L509.93,770.88 L510.76,770.92 L511.40,771.00" fill="none" stroke="#ff0000" stroke-width="3.20" stroke-linejoin="round" stroke-linecap="round"/>
<path d="M250.20,75.10 L260.20,114.40 L275.30,150.60 L287.40,180.80 L299.50,217.10 L311.60,247.30 L326.70,280.50 L337.30,318.30 L344.40,336.30 L355.00,366.50 L367.00,411.80 L370.10,420.80 L371.60,460.10 L365.50,472.20 L350.40,493.40 L323.20,517.50 L309.60,543.20 L309.52,544.92 L309.27,547.19 L309.04,549.93 L309.01,553.08 L309.37,556.56 L310.30,560.30 L311.86,564.52 L313.93,569.33 L316.38,574.47 L319.10,579.69 L321.98,584.75 L324.90,589.40 L327.85,593.61 L330.92,597.57 L334.14,601.36 L337.57,605.08 L341.24,608.80 L345.20,612.60 L349.51,616.46 L354.14,620.31 L359.03,624.16 L364.07,628.03 L369.19,631.93 L374.30,635.90 L379.55,639.97 L385.04,644.14 L390.61,648.34 L396.10,652.53 L401.35,656.63 L406.20,660.60 L410.60,664.49 L414.66,668.35 L418.49,672.14 L422.17,675.78 L425.81,679.22 L429.50,682.40 L433.36,685.21 L437.33,687.67 L441.26,689.92 L444.98,692.12 L448.35,694.40 L451.20,696.90 L453.52,699.67 L455.41,702.59 L456.96,705.60 L458.20,708.61 L459.19,711.53 L460.00,714.30 L460.54,716.75 L460.76,718.91 L460.73,721.00 L460.54,723.21 L460.27,725.74 L460.00,728.80 L459.67,732.64 L459.20,737.15 L458.64,741.99 L458.07,746.80 L457.54,751.26 L457.10,755.00 L456.73,758.06 L456.39,760.71 L456.08,763.01 L455.83,764.97 L455.66,766.66 L455.60,768.10 L455.69,769.21 L455.93,769.93 L456.26,770.37 L456.60,770.63 L456.90,770.80 L457.10,771.00" fill="none" stroke="#1a6ef0" stroke-width="3.20" stroke-linejoin="round" stroke-linecap="round"/>
<rect x="507.7" y="767.6" width="7.8" height="7.4" rx="1" fill="#ff0000"/>
<ellipse cx="465.8" cy="771.4" rx="3.9" ry="3.5" fill="#1a6ef0"/>
<line x1="713.4" y1="52" x2="713.4" y2="800" stroke="#444" stroke-width="1"/>
<line x1="804.2" y1="52" x2="804.2" y2="803" stroke="#000" stroke-width="2"/>
<line x1="805" y1="100.5" x2="813.7" y2="100.5" stroke="#000" stroke-width="1"/>
<text x="825.0" y="106.2" font-size="16.0" fill="#000" stroke="#000" stroke-width="0.35">32</text>
<line x1="805" y1="148.0" x2="813.7" y2="148.0" stroke="#000" stroke-width="1"/>
<text x="825.0" y="153.7" font-size="16.0" fill="#000" stroke="#000" stroke-width="0.35">30</text>
<line x1="805" y1="195.5" x2="813.7" y2="195.5" stroke="#000" stroke-width="1"/>
<text x="825.0" y="201.2" font-size="16.0" fill="#000" stroke="#000" stroke-width="0.35">28</text>
<line x1="805" y1="242.2" x2="813.7" y2="242.2" stroke="#000" stroke-width="1"/>
<text x="825.0" y="247.9" font-size="16.0" fill="#000" stroke="#000" stroke-width="0.35">26</text>
<line x1="805" y1="287.8" x2="813.7" y2="287.8" stroke="#000" stroke-width="1"/>
<text x="825.0" y="293.5" font-size="16.0" fill="#000" stroke="#000" stroke-width="0.35">24</text>
<line x1="805" y1="332.2" x2="813.7" y2="332.2" stroke="#000" stroke-width="1"/>
<text x="825.0" y="337.9" font-size="16.0" fill="#000" stroke="#000" stroke-width="0.35">22</text>
<line x1="805" y1="375.8" x2="813.7" y2="375.8" stroke="#000" stroke-width="1"/>
<text x="825.0" y="381.5" font-size="16.0" fill="#000" stroke="#000" stroke-width="0.35">20</text>
<line x1="805" y1="419.4" x2="813.7" y2="419.4" stroke="#000" stroke-width="1"/>
<text x="825.0" y="425.1" font-size="16.0" fill="#000" stroke="#000" stroke-width="0.35">18</text>
<line x1="805" y1="462.1" x2="813.7" y2="462.1" stroke="#000" stroke-width="1"/>
<text x="825.0" y="467.8" font-size="16.0" fill="#000" stroke="#000" stroke-width="0.35">16</text>
<line x1="805" y1="504.5" x2="813.7" y2="504.5" stroke="#000" stroke-width="1"/>
<text x="825.0" y="510.2" font-size="16.0" fill="#000" stroke="#000" stroke-width="0.35">14</text>
<line x1="805" y1="544.5" x2="813.7" y2="544.5" stroke="#000" stroke-width="1"/>
<text x="825.0" y="550.2" font-size="16.0" fill="#000" stroke="#000" stroke-width="0.35">12</text>
<line x1="805" y1="585.9" x2="813.7" y2="585.9" stroke="#000" stroke-width="1"/>
<text x="825.0" y="591.6" font-size="16.0" fill="#000" stroke="#000" stroke-width="0.35">10</text>
<line x1="805" y1="626.1" x2="813.7" y2="626.1" stroke="#000" stroke-width="1"/>
<text x="825.0" y="631.8" font-size="16.0" fill="#000" stroke="#000" stroke-width="0.35">8</text>
<line x1="805" y1="666.0" x2="813.7" y2="666.0" stroke="#000" stroke-width="1"/>
<text x="825.0" y="671.7" font-size="16.0" fill="#000" stroke="#000" stroke-width="0.35">6</text>
<line x1="805" y1="704.7" x2="813.7" y2="704.7" stroke="#000" stroke-width="1"/>
<text x="825.0" y="710.4" font-size="16.0" fill="#000" stroke="#000" stroke-width="0.35">4</text>
<line x1="805" y1="743.1" x2="813.7" y2="743.1" stroke="#000" stroke-width="1"/>
<text x="825.0" y="748.8" font-size="16.0" fill="#000" stroke="#000" stroke-width="0.35">2</text>
<line x1="805" y1="780.9" x2="813.7" y2="780.9" stroke="#000" stroke-width="1"/>
<text x="825.0" y="786.6" font-size="16.0" fill="#000" stroke="#000" stroke-width="0.35">0</text>
<text x="773.5" y="426.5" font-size="16.5" fill="#000" stroke="#000" stroke-width="0.35" text-anchor="middle" textLength="141.0" lengthAdjust="spacingAndGlyphs" transform="rotate(90 773.5 426.5)">Height (1000 Feet)</text>
<text x="713.3" y="65.3" font-size="11.5" font-weight="bold" fill="#ff0000" stroke="#ff0000" stroke-width="0.3" text-anchor="middle">0</text>
<text x="713.3" y="799.5" font-size="11.5" font-weight="bold" fill="#ff0000" stroke="#ff0000" stroke-width="0.3" text-anchor="middle">0</text>
<text x="758.5" y="65.3" font-size="11.5" font-weight="bold" fill="#ff0000" stroke="#ff0000" stroke-width="0.3" text-anchor="middle">40</text>
<text x="758.5" y="799.5" font-size="11.5" font-weight="bold" fill="#ff0000" stroke="#ff0000" stroke-width="0.3" text-anchor="middle">40</text>
<text x="804.5" y="65.3" font-size="11.5" font-weight="bold" fill="#ff0000" stroke="#ff0000" stroke-width="0.3" text-anchor="middle">80</text>
<text x="804.5" y="799.5" font-size="11.5" font-weight="bold" fill="#ff0000" stroke="#ff0000" stroke-width="0.3" text-anchor="middle">80</text>
<text x="850.0" y="65.3" font-size="11.5" font-weight="bold" fill="#ff0000" stroke="#ff0000" stroke-width="0.3" text-anchor="middle">120</text>
<text x="850.0" y="799.5" font-size="11.5" font-weight="bold" fill="#ff0000" stroke="#ff0000" stroke-width="0.3" text-anchor="middle">120</text>
<text x="760.4" y="811.9" font-size="12.0" fill="#ff0000" stroke="#ff0000" stroke-width="0.35" text-anchor="middle" textLength="56.5" lengthAdjust="spacingAndGlyphs">Speed (kt)</text>
<path d="M798.30,75.40 L797.92,78.36 L797.37,82.53 L796.74,87.43 L796.07,92.60 L795.44,97.58 L794.90,101.90 L794.45,105.53 L794.05,108.84 L793.67,111.96 L793.33,115.02 L793.01,118.16 L792.70,121.50 L792.43,124.93 L792.20,128.31 L791.99,131.78 L791.78,135.43 L791.56,139.40 L791.30,143.80 L791.00,149.02 L790.69,155.04 L790.35,161.38 L790.00,167.54 L789.65,173.05 L789.30,177.40 L789.00,180.18 L788.76,181.71 L788.51,182.57 L788.20,183.37 L787.75,184.71 L787.10,187.20 L786.23,190.97 L785.17,195.57 L783.99,200.71 L782.71,206.11 L781.40,211.47 L780.10,216.50 L778.75,221.31 L777.30,226.14 L775.81,230.94 L774.34,235.64 L772.95,240.18 L771.70,244.50 L770.59,248.55 L769.59,252.35 L768.67,256.00 L767.80,259.57 L766.95,263.14 L766.10,266.80 L765.26,270.34 L764.45,273.66 L763.66,276.98 L762.90,280.53 L762.14,284.53 L761.40,289.20 L760.63,294.84 L759.84,301.33 L759.06,308.27 L758.34,315.26 L757.70,321.90 L757.20,327.80 L756.84,332.91 L756.59,337.53 L756.43,341.81 L756.34,345.87 L756.31,349.86 L756.30,353.90 L756.34,357.81 L756.46,361.44 L756.62,365.00 L756.81,368.68 L757.01,372.68 L757.20,377.20 L757.39,382.28 L757.59,387.76 L757.81,393.56 L758.02,399.61 L758.22,405.81 L758.40,412.10 L758.57,418.75 L758.74,425.89 L758.91,433.18 L759.04,440.31 L759.15,446.96 L759.20,452.80 L759.21,457.48 L759.20,461.18 L759.15,464.40 L759.06,467.62 L758.91,471.32 L758.70,476.00 L758.41,481.97 L758.03,488.91 L757.59,496.34 L757.14,503.77 L756.70,510.72 L756.30,516.70 L755.95,521.70 L755.63,526.09 L755.31,530.01 L755.00,533.55 L754.66,536.84 L754.30,540.00 L753.91,542.78 L753.49,545.04 L753.06,547.04 L752.62,549.06 L752.16,551.36 L751.70,554.20 L751.21,557.59 L750.67,561.30 L750.13,565.30 L749.60,569.52 L749.12,573.90 L748.70,578.40 L748.36,582.95 L748.09,587.57 L747.86,592.37 L747.64,597.41 L747.43,602.80 L747.20,608.60 L746.95,615.02 L746.70,622.03 L746.45,629.37 L746.20,636.80 L745.95,644.06 L745.70,650.90 L745.49,657.51 L745.31,664.12 L745.14,670.56 L744.93,676.67 L744.63,682.27 L744.20,687.20 L743.58,691.27 L742.78,694.58 L741.90,697.38 L741.02,699.93 L740.22,702.49 L739.60,705.30 L739.16,708.19 L738.85,710.91 L738.62,713.64 L738.44,716.54 L738.28,719.77 L738.10,723.50 L737.93,728.03 L737.80,733.29 L737.69,738.89 L737.57,744.42 L737.41,749.49 L737.20,753.70 L736.97,757.05 L736.76,759.86 L736.51,762.20 L736.18,764.17 L735.72,765.84 L735.10,767.30 L734.18,768.45 L732.99,769.20 L731.67,769.65 L730.38,769.91 L729.27,770.10 L728.50,770.30" fill="none" stroke="#ff0000" stroke-width="1.10" stroke-linejoin="round" stroke-linecap="round"/>
<line x1="713.4" y1="75.6" x2="678.06" y2="82.47" stroke="#000" stroke-width="1.3"/>
<path d="M678.06,82.47 L676.38,73.83 L683.46,81.42 Z" fill="#000" stroke="#000" stroke-width="0.6"/>
<line x1="684.93" y1="81.14" x2="679.09" y2="73.10" stroke="#000" stroke-width="1.25"/>
<line x1="687.88" y1="80.56" x2="682.04" y2="72.53" stroke="#000" stroke-width="1.25"/>
<line x1="690.82" y1="79.99" x2="687.90" y2="75.97" stroke="#000" stroke-width="1.2"/>
<line x1="713.4" y1="115.4" x2="678.06" y2="122.27" stroke="#000" stroke-width="1.3"/>
<path d="M678.06,122.27 L676.38,113.63 L683.46,121.22 Z" fill="#000" stroke="#000" stroke-width="0.6"/>
<line x1="684.93" y1="120.94" x2="679.09" y2="112.90" stroke="#000" stroke-width="1.25"/>
<line x1="687.88" y1="120.36" x2="682.04" y2="112.33" stroke="#000" stroke-width="1.25"/>
<line x1="713.4" y1="151.0" x2="677.97" y2="157.40" stroke="#000" stroke-width="1.3"/>
<path d="M677.97,157.40 L676.41,148.74 L683.39,156.42 Z" fill="#000" stroke="#000" stroke-width="0.6"/>
<line x1="684.86" y1="156.15" x2="679.13" y2="148.04" stroke="#000" stroke-width="1.25"/>
<line x1="687.81" y1="155.62" x2="682.08" y2="147.51" stroke="#000" stroke-width="1.25"/>
<line x1="713.4" y1="184.7" x2="677.97" y2="191.10" stroke="#000" stroke-width="1.3"/>
<path d="M677.97,191.10 L676.41,182.44 L683.39,190.12 Z" fill="#000" stroke="#000" stroke-width="0.6"/>
<line x1="684.86" y1="189.85" x2="679.13" y2="181.74" stroke="#000" stroke-width="1.25"/>
<line x1="687.81" y1="189.32" x2="684.95" y2="185.26" stroke="#000" stroke-width="1.2"/>
<line x1="713.4" y1="216.0" x2="677.89" y2="221.92" stroke="#000" stroke-width="1.3"/>
<path d="M677.89,221.92 L676.44,213.24 L683.31,221.01 Z" fill="#000" stroke="#000" stroke-width="0.6"/>
<line x1="684.79" y1="220.77" x2="679.17" y2="212.58" stroke="#000" stroke-width="1.25"/>
<line x1="713.4" y1="248.6" x2="677.83" y2="254.13" stroke="#000" stroke-width="1.3"/>
<path d="M677.83,254.13 L676.48,245.44 L683.26,253.29 Z" fill="#000" stroke="#000" stroke-width="0.6"/>
<line x1="713.4" y1="287.6" x2="682.59" y2="293.11" stroke="#000" stroke-width="1.3"/>
<line x1="682.59" y1="293.11" x2="676.87" y2="284.99" stroke="#000" stroke-width="1.25"/>
<line x1="685.54" y1="292.58" x2="679.82" y2="284.46" stroke="#000" stroke-width="1.25"/>
<line x1="688.50" y1="292.06" x2="682.78" y2="283.94" stroke="#000" stroke-width="1.25"/>
<line x1="691.45" y1="291.53" x2="685.73" y2="283.41" stroke="#000" stroke-width="1.25"/>
<line x1="694.40" y1="291.00" x2="691.54" y2="286.94" stroke="#000" stroke-width="1.2"/>
<line x1="713.4" y1="331.5" x2="682.52" y2="336.63" stroke="#000" stroke-width="1.3"/>
<line x1="682.52" y1="336.63" x2="676.91" y2="328.44" stroke="#000" stroke-width="1.25"/>
<line x1="685.48" y1="336.14" x2="679.86" y2="327.95" stroke="#000" stroke-width="1.25"/>
<line x1="688.44" y1="335.65" x2="682.82" y2="327.46" stroke="#000" stroke-width="1.25"/>
<line x1="691.40" y1="335.15" x2="685.78" y2="326.96" stroke="#000" stroke-width="1.25"/>
<line x1="713.4" y1="376.5" x2="682.49" y2="381.44" stroke="#000" stroke-width="1.3"/>
<line x1="682.49" y1="381.44" x2="676.92" y2="373.21" stroke="#000" stroke-width="1.25"/>
<line x1="685.45" y1="380.96" x2="679.89" y2="372.74" stroke="#000" stroke-width="1.25"/>
<line x1="688.42" y1="380.49" x2="682.85" y2="372.27" stroke="#000" stroke-width="1.25"/>
<line x1="691.38" y1="380.02" x2="685.81" y2="371.79" stroke="#000" stroke-width="1.25"/>
<line x1="713.4" y1="421.0" x2="682.43" y2="425.55" stroke="#000" stroke-width="1.3"/>
<line x1="682.43" y1="425.55" x2="676.97" y2="417.26" stroke="#000" stroke-width="1.25"/>
<line x1="685.40" y1="425.11" x2="679.94" y2="416.82" stroke="#000" stroke-width="1.25"/>
<line x1="688.37" y1="424.68" x2="682.90" y2="416.39" stroke="#000" stroke-width="1.25"/>
<line x1="691.34" y1="424.24" x2="685.87" y2="415.95" stroke="#000" stroke-width="1.25"/>
<line x1="713.4" y1="461.0" x2="682.25" y2="464.08" stroke="#000" stroke-width="1.3"/>
<line x1="682.25" y1="464.08" x2="677.19" y2="455.54" stroke="#000" stroke-width="1.25"/>
<line x1="685.24" y1="463.79" x2="680.17" y2="455.25" stroke="#000" stroke-width="1.25"/>
<line x1="688.22" y1="463.49" x2="683.16" y2="454.95" stroke="#000" stroke-width="1.25"/>
<line x1="691.21" y1="463.20" x2="686.14" y2="454.66" stroke="#000" stroke-width="1.25"/>
<line x1="713.4" y1="494.3" x2="682.14" y2="495.90" stroke="#000" stroke-width="1.3"/>
<line x1="682.14" y1="495.90" x2="677.49" y2="487.12" stroke="#000" stroke-width="1.25"/>
<line x1="685.14" y1="495.74" x2="680.48" y2="486.97" stroke="#000" stroke-width="1.25"/>
<line x1="688.13" y1="495.59" x2="683.48" y2="486.82" stroke="#000" stroke-width="1.25"/>
<line x1="691.13" y1="495.44" x2="686.48" y2="486.66" stroke="#000" stroke-width="1.25"/>
<line x1="713.4" y1="522.6" x2="682.12" y2="523.80" stroke="#000" stroke-width="1.3"/>
<line x1="682.12" y1="523.80" x2="677.58" y2="514.97" stroke="#000" stroke-width="1.25"/>
<line x1="685.12" y1="523.68" x2="680.58" y2="514.85" stroke="#000" stroke-width="1.25"/>
<line x1="688.12" y1="523.57" x2="683.58" y2="514.74" stroke="#000" stroke-width="1.25"/>
<line x1="691.12" y1="523.45" x2="688.85" y2="519.04" stroke="#000" stroke-width="1.2"/>
<line x1="713.4" y1="544.3" x2="682.17" y2="546.40" stroke="#000" stroke-width="1.3"/>
<line x1="682.17" y1="546.40" x2="677.38" y2="537.70" stroke="#000" stroke-width="1.25"/>
<line x1="685.16" y1="546.19" x2="680.37" y2="537.50" stroke="#000" stroke-width="1.25"/>
<line x1="688.16" y1="545.99" x2="683.36" y2="537.29" stroke="#000" stroke-width="1.25"/>
<line x1="691.15" y1="545.79" x2="688.75" y2="541.44" stroke="#000" stroke-width="1.2"/>
<line x1="713.4" y1="561.6" x2="682.19" y2="563.99" stroke="#000" stroke-width="1.3"/>
<line x1="682.19" y1="563.99" x2="677.32" y2="555.34" stroke="#000" stroke-width="1.25"/>
<line x1="685.18" y1="563.76" x2="680.31" y2="555.11" stroke="#000" stroke-width="1.25"/>
<line x1="688.17" y1="563.53" x2="683.30" y2="554.88" stroke="#000" stroke-width="1.25"/>
<line x1="713.4" y1="576.5" x2="682.16" y2="578.40" stroke="#000" stroke-width="1.3"/>
<line x1="682.16" y1="578.40" x2="677.42" y2="569.67" stroke="#000" stroke-width="1.25"/>
<line x1="685.15" y1="578.21" x2="680.41" y2="569.49" stroke="#000" stroke-width="1.25"/>
<line x1="688.15" y1="578.03" x2="683.41" y2="569.30" stroke="#000" stroke-width="1.25"/>
<line x1="713.4" y1="588.1" x2="682.29" y2="591.58" stroke="#000" stroke-width="1.3"/>
<line x1="682.29" y1="591.58" x2="677.12" y2="583.10" stroke="#000" stroke-width="1.25"/>
<line x1="685.28" y1="591.24" x2="680.10" y2="582.77" stroke="#000" stroke-width="1.25"/>
<line x1="688.26" y1="590.91" x2="683.08" y2="582.43" stroke="#000" stroke-width="1.25"/>
<line x1="713.4" y1="600.3" x2="682.43" y2="604.85" stroke="#000" stroke-width="1.3"/>
<line x1="682.43" y1="604.85" x2="676.97" y2="596.56" stroke="#000" stroke-width="1.25"/>
<line x1="685.40" y1="604.41" x2="679.94" y2="596.12" stroke="#000" stroke-width="1.25"/>
<line x1="688.37" y1="603.98" x2="682.90" y2="595.69" stroke="#000" stroke-width="1.25"/>
<line x1="713.4" y1="611.1" x2="682.48" y2="615.94" stroke="#000" stroke-width="1.3"/>
<line x1="682.48" y1="615.94" x2="676.94" y2="607.70" stroke="#000" stroke-width="1.25"/>
<line x1="685.44" y1="615.48" x2="679.90" y2="607.23" stroke="#000" stroke-width="1.25"/>
<line x1="688.40" y1="615.01" x2="682.86" y2="606.77" stroke="#000" stroke-width="1.25"/>
<line x1="713.4" y1="622.3" x2="682.48" y2="627.14" stroke="#000" stroke-width="1.3"/>
<line x1="682.48" y1="627.14" x2="676.94" y2="618.90" stroke="#000" stroke-width="1.25"/>
<line x1="685.44" y1="626.68" x2="679.90" y2="618.43" stroke="#000" stroke-width="1.25"/>
<line x1="688.40" y1="626.21" x2="682.86" y2="617.97" stroke="#000" stroke-width="1.25"/>
<line x1="713.4" y1="632.0" x2="682.49" y2="636.94" stroke="#000" stroke-width="1.3"/>
<line x1="682.49" y1="636.94" x2="676.92" y2="628.71" stroke="#000" stroke-width="1.25"/>
<line x1="685.45" y1="636.46" x2="679.89" y2="628.24" stroke="#000" stroke-width="1.25"/>
<line x1="688.42" y1="635.99" x2="682.85" y2="627.77" stroke="#000" stroke-width="1.25"/>
<line x1="713.4" y1="641.1" x2="682.57" y2="646.52" stroke="#000" stroke-width="1.3"/>
<line x1="682.57" y1="646.52" x2="676.88" y2="638.38" stroke="#000" stroke-width="1.25"/>
<line x1="685.53" y1="646.00" x2="679.83" y2="637.86" stroke="#000" stroke-width="1.25"/>
<line x1="688.48" y1="645.48" x2="682.79" y2="637.34" stroke="#000" stroke-width="1.25"/>
<line x1="713.4" y1="650.2" x2="682.59" y2="655.71" stroke="#000" stroke-width="1.3"/>
<line x1="682.59" y1="655.71" x2="676.87" y2="647.59" stroke="#000" stroke-width="1.25"/>
<line x1="685.54" y1="655.18" x2="679.82" y2="647.06" stroke="#000" stroke-width="1.25"/>
<line x1="688.50" y1="654.66" x2="682.78" y2="646.54" stroke="#000" stroke-width="1.25"/>
<line x1="713.4" y1="659.1" x2="682.42" y2="663.55" stroke="#000" stroke-width="1.3"/>
<line x1="682.42" y1="663.55" x2="676.98" y2="655.24" stroke="#000" stroke-width="1.25"/>
<line x1="685.39" y1="663.13" x2="679.95" y2="654.82" stroke="#000" stroke-width="1.25"/>
<line x1="688.36" y1="662.70" x2="682.92" y2="654.39" stroke="#000" stroke-width="1.25"/>
<line x1="713.4" y1="667.4" x2="682.35" y2="671.37" stroke="#000" stroke-width="1.3"/>
<line x1="682.35" y1="671.37" x2="677.05" y2="662.97" stroke="#000" stroke-width="1.25"/>
<line x1="685.33" y1="670.99" x2="680.02" y2="662.59" stroke="#000" stroke-width="1.25"/>
<line x1="688.30" y1="670.61" x2="685.65" y2="666.41" stroke="#000" stroke-width="1.2"/>
<line x1="713.4" y1="675.8" x2="682.35" y2="679.77" stroke="#000" stroke-width="1.3"/>
<line x1="682.35" y1="679.77" x2="677.05" y2="671.37" stroke="#000" stroke-width="1.25"/>
<line x1="685.33" y1="679.39" x2="680.02" y2="670.99" stroke="#000" stroke-width="1.25"/>
<line x1="688.30" y1="679.01" x2="685.65" y2="674.81" stroke="#000" stroke-width="1.2"/>
<line x1="713.4" y1="684.1" x2="682.29" y2="687.58" stroke="#000" stroke-width="1.3"/>
<line x1="682.29" y1="687.58" x2="677.12" y2="679.10" stroke="#000" stroke-width="1.25"/>
<line x1="685.28" y1="687.24" x2="680.10" y2="678.77" stroke="#000" stroke-width="1.25"/>
<line x1="688.26" y1="686.91" x2="685.67" y2="682.67" stroke="#000" stroke-width="1.2"/>
<line x1="713.4" y1="690.9" x2="682.24" y2="693.89" stroke="#000" stroke-width="1.3"/>
<line x1="682.24" y1="693.89" x2="677.20" y2="685.33" stroke="#000" stroke-width="1.25"/>
<line x1="685.23" y1="693.60" x2="680.19" y2="685.04" stroke="#000" stroke-width="1.25"/>
<line x1="688.22" y1="693.31" x2="685.70" y2="689.03" stroke="#000" stroke-width="1.2"/>
<line x1="713.4" y1="698.5" x2="682.12" y2="699.50" stroke="#000" stroke-width="1.3"/>
<line x1="682.12" y1="699.50" x2="677.63" y2="690.64" stroke="#000" stroke-width="1.25"/>
<line x1="685.11" y1="699.40" x2="680.63" y2="690.54" stroke="#000" stroke-width="1.25"/>
<line x1="688.11" y1="699.31" x2="685.87" y2="694.88" stroke="#000" stroke-width="1.2"/>
<line x1="713.4" y1="705.4" x2="682.10" y2="705.90" stroke="#000" stroke-width="1.3"/>
<line x1="682.10" y1="705.90" x2="677.76" y2="696.97" stroke="#000" stroke-width="1.25"/>
<line x1="685.10" y1="705.85" x2="680.76" y2="696.92" stroke="#000" stroke-width="1.25"/>
<line x1="688.10" y1="705.80" x2="685.93" y2="701.34" stroke="#000" stroke-width="1.2"/>
<line x1="713.4" y1="712.8" x2="682.10" y2="712.80" stroke="#000" stroke-width="1.3"/>
<line x1="682.10" y1="712.80" x2="677.90" y2="703.80" stroke="#000" stroke-width="1.25"/>
<line x1="685.10" y1="712.80" x2="680.90" y2="703.80" stroke="#000" stroke-width="1.25"/>
<line x1="713.4" y1="719.2" x2="682.10" y2="718.70" stroke="#000" stroke-width="1.3"/>
<line x1="682.10" y1="718.70" x2="678.05" y2="709.63" stroke="#000" stroke-width="1.25"/>
<line x1="685.10" y1="718.75" x2="681.05" y2="709.68" stroke="#000" stroke-width="1.25"/>
<line x1="713.4" y1="726.1" x2="682.11" y2="725.30" stroke="#000" stroke-width="1.3"/>
<line x1="682.11" y1="725.30" x2="678.14" y2="716.20" stroke="#000" stroke-width="1.25"/>
<line x1="685.11" y1="725.38" x2="681.14" y2="716.27" stroke="#000" stroke-width="1.25"/>
<line x1="713.4" y1="733.0" x2="682.12" y2="732.00" stroke="#000" stroke-width="1.3"/>
<line x1="682.12" y1="732.00" x2="678.21" y2="722.87" stroke="#000" stroke-width="1.25"/>
<line x1="685.11" y1="732.10" x2="681.20" y2="722.97" stroke="#000" stroke-width="1.25"/>
<line x1="713.4" y1="740.0" x2="682.14" y2="738.50" stroke="#000" stroke-width="1.3"/>
<line x1="682.14" y1="738.50" x2="678.37" y2="729.31" stroke="#000" stroke-width="1.25"/>
<line x1="685.13" y1="738.65" x2="681.37" y2="729.45" stroke="#000" stroke-width="1.25"/>
<line x1="713.4" y1="746.4" x2="682.16" y2="744.40" stroke="#000" stroke-width="1.3"/>
<line x1="682.16" y1="744.40" x2="678.55" y2="735.15" stroke="#000" stroke-width="1.25"/>
<line x1="685.16" y1="744.60" x2="681.54" y2="735.35" stroke="#000" stroke-width="1.25"/>
<line x1="713.4" y1="752.3" x2="682.20" y2="749.81" stroke="#000" stroke-width="1.3"/>
<line x1="682.20" y1="749.81" x2="678.73" y2="740.50" stroke="#000" stroke-width="1.25"/>
<line x1="685.19" y1="750.05" x2="681.72" y2="740.74" stroke="#000" stroke-width="1.25"/>
<line x1="713.4" y1="758.2" x2="682.24" y2="755.21" stroke="#000" stroke-width="1.3"/>
<line x1="682.24" y1="755.21" x2="678.92" y2="745.85" stroke="#000" stroke-width="1.25"/>
<line x1="685.23" y1="755.50" x2="681.91" y2="746.14" stroke="#000" stroke-width="1.25"/>
<line x1="713.4" y1="763.2" x2="682.35" y2="759.23" stroke="#000" stroke-width="1.3"/>
<line x1="682.35" y1="759.23" x2="679.33" y2="749.77" stroke="#000" stroke-width="1.25"/>
<line x1="685.33" y1="759.61" x2="682.30" y2="750.15" stroke="#000" stroke-width="1.25"/>
<line x1="713.4" y1="767.6" x2="682.42" y2="763.15" stroke="#000" stroke-width="1.3"/>
<line x1="682.42" y1="763.15" x2="679.54" y2="753.64" stroke="#000" stroke-width="1.25"/>
<line x1="685.39" y1="763.57" x2="682.51" y2="754.07" stroke="#000" stroke-width="1.25"/>
<line x1="713.4" y1="771.1" x2="682.49" y2="766.16" stroke="#000" stroke-width="1.3"/>
<line x1="682.49" y1="766.16" x2="679.76" y2="756.61" stroke="#000" stroke-width="1.25"/>
<line x1="685.45" y1="766.64" x2="684.09" y2="761.86" stroke="#000" stroke-width="1.2"/>
</svg></body></html>
